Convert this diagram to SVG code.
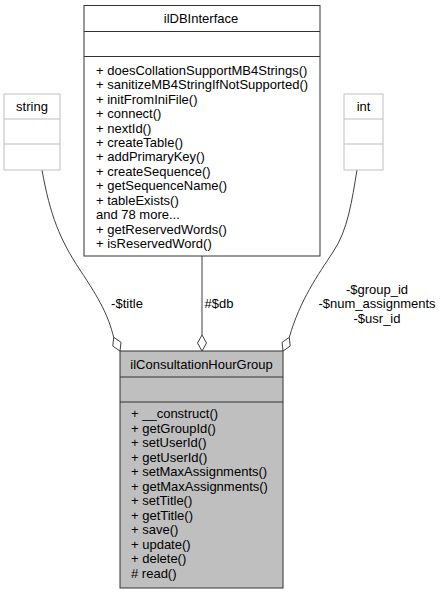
<svg xmlns="http://www.w3.org/2000/svg" width="442" height="595" viewBox="0 0 442 595">
<style>
text{font-family:"Liberation Sans",Arial,Helvetica,sans-serif;font-size:13px;fill:#000}
.c{text-anchor:middle}
.main{fill:#fff;stroke:#333;stroke-width:1}
.grey{fill:#bfbfbf;stroke:#333;stroke-width:1}
.light{fill:#fff;stroke:#bfbfbf;stroke-width:1}
.edge{fill:none;stroke:#404040;stroke-width:1}
.dia{fill:#fff;stroke:#404040;stroke-width:1}
</style>
<rect width="442" height="595" fill="#fff"/>
<g id="edges">
<path class="edge" d="M42,170 C50,215 60,240 80,270 C100,300 108,315 113.7,337.3"/>
<polygon class="dia" points="120,351 121,342.3 113.7,337.3 112.8,346.1"/>
<path class="edge" d="M202,256 L202,335"/>
<polygon class="dia" points="202,351 206.5,343 202,335 197.5,343"/>
<path class="edge" d="M357,170 C352,200 348,230 333,252 C318,275 300,300 289.3,337.3"/>
<polygon class="dia" points="283,351 282.1,342.3 289.3,337.3 290.2,346.1"/>
<text class="c" x="127" y="308">-$title</text>
<text class="c" x="219" y="308">#$db</text>
<text class="c" x="377" y="294">-$group_id</text>
<text class="c" x="377" y="308">-$num_assignments</text>
<text class="c" x="377" y="323">-$usr_id</text>
</g>
<g id="ilDBInterface">
<rect class="main" x="84" y="5.5" width="236" height="250.5"/>
<line class="main" x1="84" y1="31.5" x2="320" y2="31.5"/>
<line class="main" x1="84" y1="56.5" x2="320" y2="56.5"/>
<text class="c" x="201" y="23">ilDBInterface</text>
<text x="96" y="74.7">+ doesCollationSupportMB4Strings()</text>
<text x="96" y="89.15">+ sanitizeMB4StringIfNotSupported()</text>
<text x="96" y="103.6">+ initFromIniFile()</text>
<text x="96" y="118.05">+ connect()</text>
<text x="96" y="132.5">+ nextId()</text>
<text x="96" y="146.95">+ createTable()</text>
<text x="96" y="161.4">+ addPrimaryKey()</text>
<text x="96" y="175.85">+ createSequence()</text>
<text x="96" y="190.3">+ getSequenceName()</text>
<text x="96" y="204.75">+ tableExists()</text>
<text x="96" y="219.2">and 78 more...</text>
<text x="96" y="233.65">+ getReservedWords()</text>
<text x="96" y="248.1">+ isReservedWord()</text>
</g>
<g id="string">
<rect class="light" x="4" y="94" width="56" height="76"/>
<line class="light" x1="4" y1="119" x2="60" y2="119"/>
<line class="light" x1="4" y1="144" x2="60" y2="144"/>
<text class="c" x="32" y="111">string</text>
</g>
<g id="int">
<rect class="light" x="344" y="94" width="39" height="76"/>
<line class="light" x1="344" y1="119" x2="383" y2="119"/>
<line class="light" x1="344" y1="144" x2="383" y2="144"/>
<text class="c" x="363.5" y="111">int</text>
</g>
<g id="ilConsultationHourGroup">
<rect class="grey" x="120" y="351" width="163" height="237"/>
<line class="grey" x1="120" y1="377" x2="283" y2="377"/>
<line class="grey" x1="120" y1="402" x2="283" y2="402"/>
<text class="c" x="201.5" y="369">ilConsultationHourGroup</text>
<text x="131" y="418">+ __construct()</text>
<text x="131" y="432.5">+ getGroupId()</text>
<text x="131" y="447">+ setUserId()</text>
<text x="131" y="461.5">+ getUserId()</text>
<text x="131" y="476">+ setMaxAssignments()</text>
<text x="131" y="490.5">+ getMaxAssignments()</text>
<text x="131" y="505">+ setTitle()</text>
<text x="131" y="519.5">+ getTitle()</text>
<text x="131" y="534">+ save()</text>
<text x="131" y="548.5">+ update()</text>
<text x="131" y="563">+ delete()</text>
<text x="131" y="577.5"># read()</text>
</g>
</svg>
